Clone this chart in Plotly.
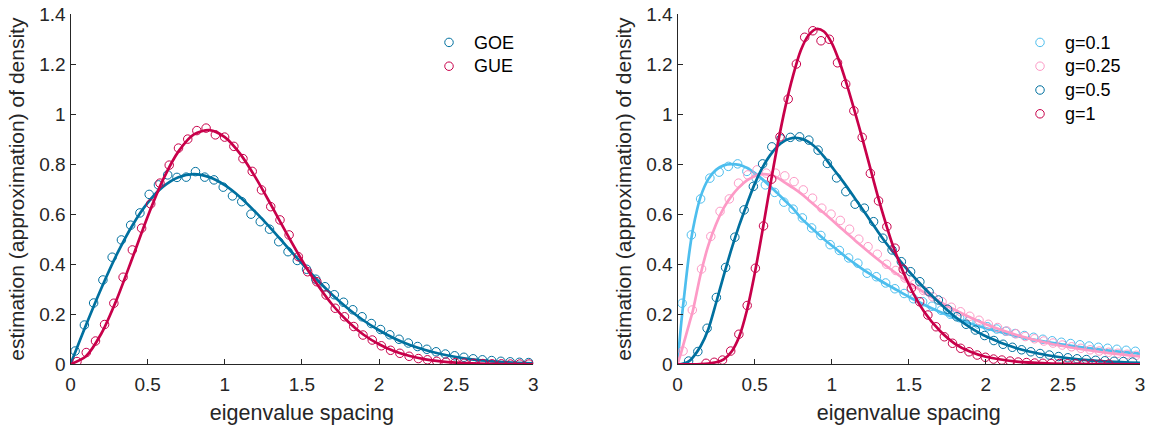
import plotly.graph_objects as go

# ---------------- data ----------------
LEFT_LINE_S = [0.0, 0.1, 0.2, 0.3, 0.4, 0.5, 0.6, 0.7, 0.8, 0.9, 1.0, 1.1, 1.2, 1.3, 1.4, 1.5,
               1.6, 1.7, 1.8, 1.9, 2.0, 2.1, 2.2, 2.3, 2.4, 2.5, 2.6, 2.7, 2.8, 2.9, 3.0]
GOE_LINE = [0.000, 0.156, 0.304, 0.439, 0.554, 0.645, 0.710, 0.748, 0.760, 0.748, 0.716, 0.668,
            0.608, 0.542, 0.472, 0.403, 0.337, 0.276, 0.222, 0.175, 0.136, 0.103, 0.077, 0.057,
            0.041, 0.029, 0.020, 0.014, 0.009, 0.006, 0.004]
GUE_LINE = [0.000, 0.032, 0.123, 0.260, 0.423, 0.590, 0.738, 0.851, 0.919, 0.936, 0.908, 0.841,
            0.746, 0.637, 0.524, 0.416, 0.319, 0.236, 0.170, 0.118, 0.080, 0.052, 0.033, 0.020,
            0.012, 0.007, 0.004, 0.002, 0.001, 0.001, 0.000]

GOE_S = [0.03, 0.09, 0.15, 0.21, 0.27, 0.33, 0.39, 0.45, 0.51, 0.57, 0.63, 0.69, 0.75, 0.81, 0.87,
         0.93, 0.99, 1.05, 1.11, 1.17, 1.23, 1.29, 1.35, 1.41, 1.47, 1.53, 1.59, 1.65, 1.71, 1.77,
         1.83, 1.89, 1.95, 2.01, 2.07, 2.13, 2.19, 2.25, 2.31, 2.37, 2.43, 2.49, 2.55, 2.61, 2.67,
         2.73, 2.79, 2.85, 2.91, 2.97]
GOE_P = [0.053, 0.157, 0.245, 0.337, 0.428, 0.497, 0.556, 0.605, 0.679, 0.717, 0.757, 0.747,
         0.748, 0.770, 0.748, 0.737, 0.708, 0.673, 0.650, 0.600, 0.570, 0.540, 0.490, 0.450,
         0.415, 0.380, 0.340, 0.310, 0.278, 0.248, 0.218, 0.190, 0.163, 0.139, 0.118, 0.100,
         0.085, 0.071, 0.060, 0.050, 0.041, 0.034, 0.028, 0.022, 0.018, 0.015, 0.012, 0.010,
         0.008, 0.007]

GUE_S = [0.042, 0.102, 0.162, 0.221, 0.281, 0.341, 0.401, 0.461, 0.520, 0.580, 0.640, 0.700,
         0.760, 0.819, 0.879, 0.939, 0.999, 1.059, 1.118, 1.178, 1.238, 1.298, 1.358, 1.417,
         1.477, 1.537, 1.597, 1.657, 1.716, 1.776, 1.836, 1.896, 1.956, 2.015, 2.075, 2.135,
         2.195, 2.255, 2.314, 2.374, 2.434, 2.494, 2.553, 2.613, 2.673, 2.733, 2.793, 2.852,
         2.912, 2.972]
GUE_P = [0.011, 0.047, 0.093, 0.159, 0.244, 0.348, 0.457, 0.544, 0.641, 0.724, 0.796, 0.864,
         0.900, 0.934, 0.944, 0.917, 0.908, 0.871, 0.822, 0.771, 0.697, 0.630, 0.577, 0.517,
         0.430, 0.370, 0.330, 0.277, 0.224, 0.190, 0.151, 0.117, 0.097, 0.074, 0.056, 0.044,
         0.032, 0.023, 0.018, 0.012, 0.009, 0.007, 0.005, 0.004, 0.003, 0.002, 0.002, 0.001,
         0.001, 0.001]

RIGHT_LINE_S = [0.0, 0.025, 0.05, 0.075, 0.1, 0.15, 0.2, 0.25, 0.3, 0.35, 0.4, 0.45, 0.5, 0.55,
                0.6, 0.65, 0.7, 0.75, 0.8, 0.85, 0.9, 0.95, 1.0, 1.05, 1.1, 1.15, 1.2, 1.25, 1.3,
                1.35, 1.4, 1.5, 1.6, 1.7, 1.8, 1.9, 2.0, 2.2, 2.4, 2.6, 2.8, 3.0]
G01_LINE = [0.000, 0.170, 0.310, 0.440, 0.540, 0.670, 0.740, 0.777, 0.795, 0.800, 0.797, 0.785,
            0.765, 0.740, 0.712, 0.683, 0.652, 0.622, 0.585, 0.556, 0.528, 0.500, 0.475, 0.450,
            0.425, 0.402, 0.380, 0.360, 0.340, 0.322, 0.305, 0.270, 0.238, 0.210, 0.185, 0.163,
            0.144, 0.113, 0.089, 0.070, 0.055, 0.043]
G025_LINE = [0.000, 0.050, 0.105, 0.160, 0.215, 0.360, 0.475, 0.560, 0.625, 0.672, 0.708, 0.735,
             0.752, 0.760, 0.757, 0.745, 0.725, 0.705, 0.683, 0.657, 0.631, 0.605, 0.578, 0.550,
             0.523, 0.496, 0.470, 0.444, 0.419, 0.395, 0.372, 0.327, 0.287, 0.250, 0.217, 0.187,
             0.160, 0.117, 0.085, 0.062, 0.045, 0.032]
G05_LINE = [0.000, 0.001, 0.005, 0.013, 0.028, 0.072, 0.140, 0.245, 0.355, 0.460, 0.555, 0.640,
            0.720, 0.785, 0.835, 0.872, 0.895, 0.905, 0.902, 0.889, 0.865, 0.830, 0.790, 0.750,
            0.708, 0.664, 0.620, 0.575, 0.530, 0.487, 0.447, 0.372, 0.305, 0.245, 0.190, 0.147,
            0.112, 0.064, 0.036, 0.020, 0.011, 0.006]
G1_LINE = [0.000, 0.000, 0.000, 0.000, 0.000, 0.001, 0.003, 0.008, 0.020, 0.050, 0.110, 0.215,
           0.360, 0.530, 0.710, 0.880, 1.030, 1.155, 1.255, 1.315, 1.340, 1.330, 1.285, 1.210,
           1.115, 1.010, 0.900, 0.785, 0.670, 0.565, 0.470, 0.320, 0.210, 0.135, 0.082, 0.050,
           0.030, 0.011, 0.004, 0.0015, 0.0005, 0.0002]

G01_S = GOE_S
G01_P = [0.244, 0.517, 0.661, 0.744, 0.768, 0.791, 0.801, 0.771, 0.744, 0.717, 0.687, 0.648,
         0.620, 0.585, 0.545, 0.515, 0.478, 0.455, 0.425, 0.404, 0.364, 0.350, 0.325, 0.302,
         0.283, 0.262, 0.250, 0.232, 0.216, 0.200, 0.186, 0.173, 0.161, 0.150, 0.141, 0.132,
         0.123, 0.115, 0.108, 0.100, 0.094, 0.088, 0.083, 0.078, 0.073, 0.068, 0.064, 0.060,
         0.056, 0.052]

G025_S = [0.036, 0.096, 0.156, 0.216, 0.276, 0.336, 0.396, 0.456, 0.516, 0.576, 0.636, 0.696,
          0.756, 0.816, 0.876, 0.936, 0.996, 1.056, 1.116, 1.176, 1.236, 1.296, 1.356, 1.416,
          1.476, 1.536, 1.596, 1.656, 1.716, 1.776, 1.836, 1.896, 1.956, 2.016, 2.076, 2.136,
          2.196, 2.256, 2.316, 2.376, 2.436, 2.496, 2.556, 2.616, 2.676, 2.736, 2.796, 2.856,
          2.916, 2.976]
G025_P = [0.053, 0.217, 0.381, 0.511, 0.611, 0.661, 0.724, 0.757, 0.777, 0.764, 0.764, 0.753,
          0.730, 0.697, 0.664, 0.624, 0.600, 0.575, 0.540, 0.500, 0.470, 0.440, 0.400, 0.375,
          0.345, 0.320, 0.295, 0.270, 0.250, 0.228, 0.210, 0.192, 0.176, 0.160, 0.147, 0.133,
          0.122, 0.111, 0.102, 0.093, 0.085, 0.077, 0.070, 0.064, 0.058, 0.053, 0.048, 0.044,
          0.040, 0.036]

G05_S = [0.072, 0.132, 0.192, 0.252, 0.312, 0.372, 0.432, 0.492, 0.552, 0.612, 0.672, 0.732,
         0.792, 0.852, 0.912, 0.972, 1.032, 1.092, 1.152, 1.212, 1.272, 1.332, 1.392, 1.452,
         1.512, 1.572, 1.632, 1.692, 1.752, 1.812, 1.872, 1.932, 1.992, 2.052, 2.112, 2.172,
         2.232, 2.292, 2.352, 2.412, 2.472, 2.532, 2.592, 2.652, 2.712, 2.772, 2.832, 2.892,
         2.952]
G05_P = [0.013, 0.051, 0.144, 0.267, 0.387, 0.508, 0.617, 0.711, 0.801, 0.869, 0.901, 0.907,
         0.909, 0.896, 0.856, 0.803, 0.745, 0.690, 0.640, 0.624, 0.570, 0.504, 0.457, 0.410,
         0.370, 0.330, 0.290, 0.257, 0.220, 0.190, 0.160, 0.137, 0.115, 0.095, 0.080, 0.068,
         0.058, 0.050, 0.043, 0.037, 0.031, 0.026, 0.022, 0.019, 0.016, 0.014, 0.012, 0.011,
         0.009]

G1_S = [0.185, 0.238, 0.292, 0.345, 0.398, 0.452, 0.505, 0.558, 0.611, 0.665, 0.718, 0.771,
        0.825, 0.878, 0.931, 0.985, 1.038, 1.091, 1.144, 1.198, 1.251, 1.304, 1.358, 1.411,
        1.464, 1.517, 1.571, 1.624, 1.677, 1.731, 1.784, 1.837, 1.891, 1.944, 1.997, 2.050,
        2.104, 2.157, 2.210, 2.264, 2.317, 2.370, 2.424, 2.477, 2.530, 2.583, 2.637, 2.690,
        2.743, 2.797]
G1_P = [0.004, 0.008, 0.017, 0.053, 0.120, 0.235, 0.384, 0.553, 0.740, 0.909, 1.060, 1.200,
        1.307, 1.333, 1.293, 1.299, 1.205, 1.120, 1.013, 0.907, 0.763, 0.653, 0.550, 0.464,
        0.380, 0.304, 0.250, 0.197, 0.150, 0.110, 0.084, 0.064, 0.050, 0.037, 0.028, 0.021,
        0.017, 0.013, 0.009, 0.007, 0.005, 0.004, 0.003, 0.003, 0.002, 0.002, 0.001, 0.001,
        0.001, 0.001]

LEFT_NAMES = ["GOE", "GUE"]
RIGHT_NAMES = ["g=0.1", "g=0.25", "g=0.5", "g=1"]
X_TICKS = [0, 0.5, 1, 1.5, 2, 2.5, 3]
Y_TICKS = [0, 0.2, 0.4, 0.6, 0.8, 1, 1.2, 1.4]
X_TITLE = "eigenvalue spacing"
Y_TITLE = "estimation (approximation) of density"

# ---------------- style ----------------
DARKBLUE = "#00709f"
CRIMSON = "#c8004a"
LIGHTBLUE = "#4dbeee"
PINK = "#fd9ac6"
AXC = "#262626"
FONT = "Liberation Sans, Arial, sans-serif"
LEG_TEXT = "<span style='font-size:18px'>{}</span>"

fig = go.Figure()


def add_series(sx, sy, lx, ly, color, name, xa, ya, legend):
    fig.add_trace(go.Scatter(x=sx, y=sy, mode="markers", name=LEG_TEXT.format(name),
                             marker=dict(symbol="circle-open", size=8.5, color=color,
                                         line=dict(width=1, color=color)),
                             xaxis=xa, yaxis=ya, legend=legend, cliponaxis=True))
    fig.add_trace(go.Scatter(x=lx, y=ly, mode="lines", showlegend=False,
                             line=dict(color=color, width=2.7, shape="spline", smoothing=0.8),
                             xaxis=xa, yaxis=ya, hoverinfo="skip"))


# left panel
add_series(GOE_S, GOE_P, LEFT_LINE_S, GOE_LINE, DARKBLUE, LEFT_NAMES[0], "x", "y", "legend")
add_series(GUE_S, GUE_P, LEFT_LINE_S, GUE_LINE, CRIMSON, LEFT_NAMES[1], "x", "y", "legend")
# right panel
add_series(G01_S, G01_P, RIGHT_LINE_S, G01_LINE, LIGHTBLUE, RIGHT_NAMES[0], "x2", "y2", "legend2")
add_series(G025_S, G025_P, RIGHT_LINE_S, G025_LINE, PINK, RIGHT_NAMES[1], "x2", "y2", "legend2")
add_series(G05_S, G05_P, RIGHT_LINE_S, G05_LINE, DARKBLUE, RIGHT_NAMES[2], "x2", "y2", "legend2")
add_series(G1_S, G1_P, RIGHT_LINE_S, G1_LINE, CRIMSON, RIGHT_NAMES[3], "x2", "y2", "legend2")

W, H = 1150, 430


def xaxis(dom, anchor):
    return dict(domain=dom, anchor=anchor, range=[0, 3], tickvals=X_TICKS, automargin=False,
                showline=True, linecolor=AXC, linewidth=1, ticks="inside", ticklen=5,
                tickcolor=AXC, tickwidth=1, showgrid=False, zeroline=False,
                tickfont=dict(size=19, color=AXC, family=FONT), ticklabelstandoff=3,
                title=dict(text=X_TITLE, font=dict(size=21.5, color=AXC, family=FONT), standoff=10))


def yaxis(anchor):
    return dict(domain=[(H - 364.3) / H, (H - 14) / H], anchor=anchor, range=[0, 1.4],
                automargin=False,
                tickvals=Y_TICKS, showline=True, linecolor=AXC, linewidth=1, ticks="inside",
                ticklen=5, tickcolor=AXC, tickwidth=1, showgrid=False, zeroline=False,
                tickfont=dict(size=19, color=AXC, family=FONT), ticklabelstandoff=0,
                title=dict(text=Y_TITLE, font=dict(size=21, color=AXC, family=FONT), standoff=8))


fig.update_layout(
    width=W, height=H, margin=dict(l=0, r=0, t=0, b=0),
    paper_bgcolor="white", plot_bgcolor="white",
    font=dict(family=FONT, color=AXC),
    xaxis=xaxis([70.5 / W, 533.3 / W], "y"),
    yaxis=yaxis("x"),
    xaxis2=xaxis([677.5 / W, 1140 / W], "y2"),
    yaxis2=yaxis("x2"),
    legend=dict(x=424 / W, y=1 - 25.5 / H, xanchor="left", yanchor="top",
                font=dict(size=16, color="black", family=FONT), bgcolor="rgba(0,0,0,0)",
                itemwidth=40, tracegroupgap=0),
    legend2=dict(x=1015 / W, y=1 - 25.5 / H, xanchor="left", yanchor="top",
                 font=dict(size=16, color="black", family=FONT), bgcolor="rgba(0,0,0,0)",
                 itemwidth=40, tracegroupgap=0),
    showlegend=True,
)

fig.write_html("out.html")
